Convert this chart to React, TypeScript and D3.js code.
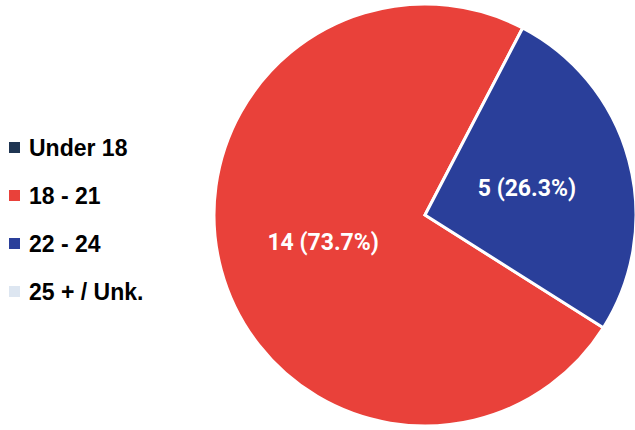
import React from "react";
import * as d3 from "d3";

const categories = ["Under 18", "18 - 21", "22 - 24", "25 + / Unk."];
const values = [0, 14, 5, 0];
const colors = ["#1F3552", "#E9413A", "#2A3F9A", "#DDE6F1"];

const W = 635;
const H = 430;
const cx = 425;
const cy = 215;
const R = 211;
const startDeg = 122.3;

export default function App() {
  const total = d3.sum(values);
  const pie = d3
    .pie<number>()
    .sort(null)
    .value((d) => d)
    .startAngle((startDeg * Math.PI) / 180)
    .endAngle((startDeg * Math.PI) / 180 + 2 * Math.PI);
  const arcs = pie(values);
  const arc = d3.arc<d3.PieArcDatum<number>>().innerRadius(0).outerRadius(R);
  const legendY = d3.scalePoint<string>().domain(categories).range([148, 292]);

  return (
    <svg
      width={W}
      height={H}
      style={{ position: "absolute", left: 0, top: 0, background: "#fff" }}
    >
      <g transform={`translate(${cx},${cy})`}>
        {arcs.map((a, i) =>
          a.value > 0 ? (
            <path key={i} d={arc(a) || ""} fill={colors[i]} stroke="#fff" strokeWidth={3} />
          ) : null
        )}
        {arcs.map((a, i) => {
          if (a.value <= 0) return null;
          const [x, y] = arc.centroid(a);
          const pct = ((a.value / total) * 100).toFixed(1);
          return (
            <text
              key={"l" + i}
              x={x}
              y={y}
              dy="0.35em"
              textAnchor="middle"
              fill="#fff"
              fontFamily="Roboto, 'Liberation Sans', Arial, sans-serif"
              fontWeight="bold"
              fontSize={23}
            >
              {`${a.value} (${pct}%)`}
            </text>
          );
        })}
      </g>
      <g>
        {categories.map((c, i) => (
          <g key={c} transform={`translate(0,${legendY(c)})`}>
            <rect x={9} y={-6} width={11} height={11} fill={colors[i]} />
            <text
              x={29}
              y={0}
              dy="0.35em"
              fontFamily="'Liberation Sans', Arial, sans-serif"
              fontWeight="bold"
              fontSize={23}
              fill="#000"
            >
              {c}
            </text>
          </g>
        ))}
      </g>
    </svg>
  );
}
